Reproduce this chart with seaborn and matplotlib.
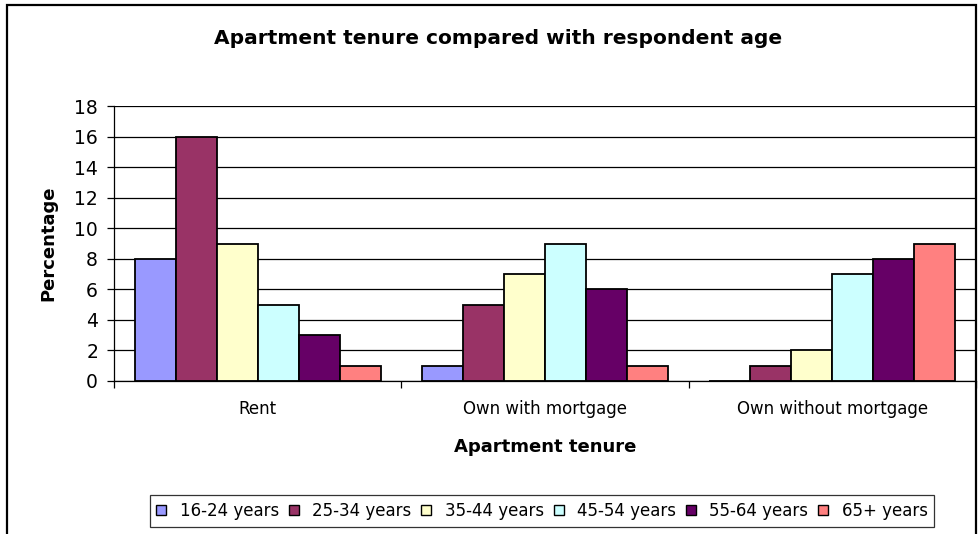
import matplotlib
matplotlib.use("Agg")
import matplotlib.pyplot as plt
import matplotlib.patches as mpatches
import pandas as pd
import seaborn as sns

# Data
tenures = ["Rent", "Own with mortgage", "Own without mortgage"]
age_groups = ["16-24 years", "25-34 years", "35-44 years",
              "45-54 years", "55-64 years", "65+ years"]
rent = [8, 16, 9, 5, 3, 1]
own_mortgage = [1, 5, 7, 9, 6, 1]
own_no_mortgage = [0, 1, 2, 7, 8, 9]
colors = ["#9999FF", "#993366", "#FFFFCC", "#CCFFFF", "#660066", "#FF8080"]

rows = []
for tenure, vals in zip(tenures, [rent, own_mortgage, own_no_mortgage]):
    for age, v in zip(age_groups, vals):
        rows.append({"tenure": tenure, "age": age, "value": v})
df = pd.DataFrame(rows)

sns.set_style("white")
plt.rcParams['font.family'] = ['DejaVu Sans']
plt.rcParams.update({"text.color": "black", "axes.labelcolor": "black",
                     "xtick.color": "black", "ytick.color": "black"})

fig = plt.figure(figsize=(9.79, 5.34), dpi=100)
ax = fig.add_axes([114 / 979, 1 - 381 / 534, (976 - 114) / 979, (381 - 106) / 534])

sns.barplot(data=df, x="tenure", y="value", hue="age", order=tenures,
            hue_order=age_groups, palette=colors, width=6 / 7,
            edgecolor="black", linewidth=1.3, saturation=1, ax=ax, legend=False)

ax.set_ylim(0, 18)
ax.set_xlim(-0.5, 2.5)
ax.set_yticks(range(0, 19, 2))
ax.yaxis.grid(True, color="black", linewidth=0.9)
ax.set_axisbelow(True)
for s in ["top", "right"]:
    ax.spines[s].set_visible(False)
for s in ["left", "bottom"]:
    ax.spines[s].set_color("black")
    ax.spines[s].set_linewidth(0.9)

ax.set_xticks([-0.5, 0.5, 1.5, 2.5], minor=True)
ax.tick_params(axis="x", which="major", length=0, pad=14, labelsize=12)
ax.tick_params(axis="x", which="minor", length=5, color="black", width=0.9,
               direction="out", bottom=True)
ax.tick_params(axis="y", length=5, color="black", width=0.9, direction="out",
               left=True, labelsize=13.5, pad=6.5)

ax.set_xlabel("Apartment tenure", fontsize=13, fontweight="bold", labelpad=14)
ax.set_ylabel("Percentage", fontsize=13, fontweight="bold", labelpad=12)
fig.text(498 / 979, 1 - 39 / 534, "Apartment tenure compared with respondent age",
         ha="center", va="center", fontsize=14.5, fontweight="bold")

handles = [mpatches.Patch(facecolor=c, edgecolor="black", linewidth=1.0, label=a)
           for c, a in zip(colors, age_groups)]
leg = fig.legend(handles=handles, ncol=6, loc="center",
                 bbox_to_anchor=(542 / 979, 1 - 511 / 534), fontsize=12,
                 frameon=True, fancybox=False, handlelength=0.6, handleheight=0.6,
                 handletextpad=0.8, columnspacing=0.6, borderpad=0.4)
leg.get_frame().set_edgecolor("black")
leg.get_frame().set_linewidth(0.9)

border = mpatches.Rectangle((7 / 979, -0.05), (976 - 7) / 979, 1 - 5 / 534 + 0.05,
                            transform=fig.transFigure, fill=False,
                            edgecolor="black", linewidth=1.6)
fig.patches.append(border)

fig.savefig("out.png", dpi=100)
